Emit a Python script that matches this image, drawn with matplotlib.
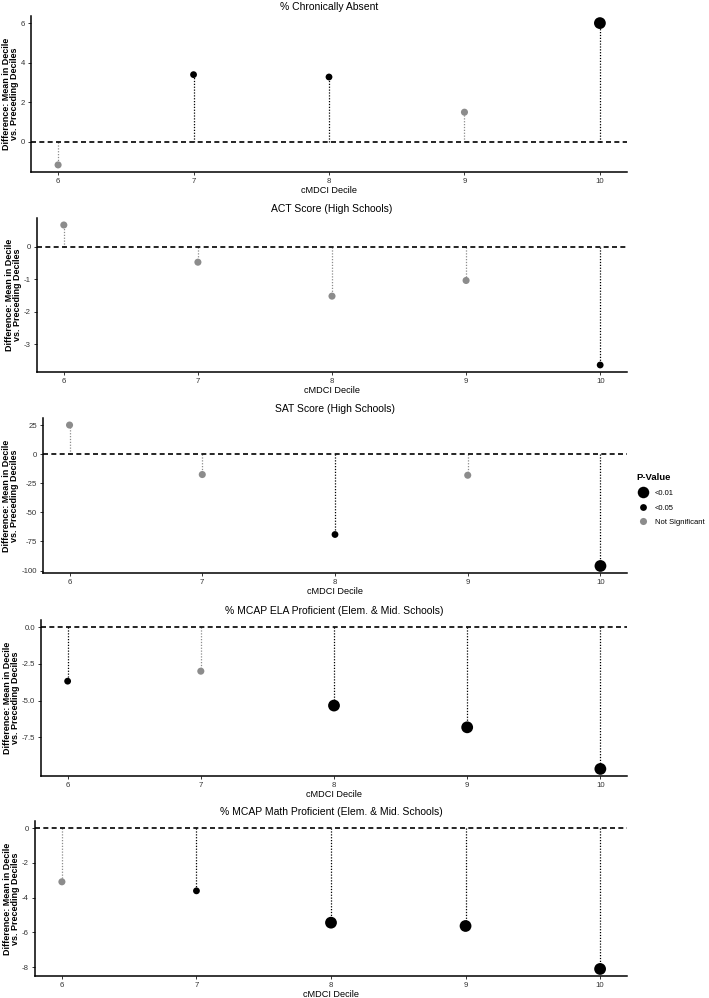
import matplotlib
matplotlib.use("Agg")
import matplotlib.pyplot as plt
from matplotlib.lines import Line2D
from matplotlib.ticker import FixedLocator, FixedFormatter

plt.rcParams['font.family'] = ['Liberation Sans', 'DejaVu Sans']
plt.rcParams['axes.unicode_minus'] = False

deciles = [6, 7, 8, 9, 10]

titles = [
    "% Chronically Absent",
    "ACT Score (High Schools)",
    "SAT Score (High Schools)",
    "% MCAP ELA Proficient (Elem. & Mid. Schools)",
    "% MCAP Math Proficient (Elem. & Mid. Schools)",
]

chronic_vals = [-1.19, 3.40, 3.28, 1.49, 6.02]
chronic_sig = ["ns", "<0.05", "<0.05", "ns", "<0.01"]

act_vals = [0.66, -0.48, -1.52, -1.04, -3.63]
act_sig = ["ns", "ns", "ns", "ns", "<0.05"]

sat_vals = [25.0, -17.5, -69.0, -18.1, -96.0]
sat_sig = ["ns", "ns", "<0.05", "ns", "<0.01"]

ela_vals = [-3.68, -3.00, -5.34, -6.82, -9.65]
ela_sig = ["<0.05", "ns", "<0.01", "<0.01", "<0.01"]

math_vals = [-3.09, -3.61, -5.44, -5.63, -8.10]
math_sig = ["ns", "<0.05", "<0.01", "<0.01", "<0.01"]

chronic_ticks = [0, 2, 4, 6]
chronic_ticklabels = ["0", "2", "4", "6"]
act_ticks = [-3, -2, -1, 0]
act_ticklabels = ["-3", "-2", "-1", "0"]
sat_ticks = [-100, -75, -50, -25, 0, 25]
sat_ticklabels = ["-100", "-75", "-50", "-25", "0", "25"]
ela_ticks = [-7.5, -5.0, -2.5, 0.0]
ela_ticklabels = ["-7.5", "-5.0", "-2.5", "0.0"]
math_ticks = [-8, -6, -4, -2, 0]
math_ticklabels = ["-8", "-6", "-4", "-2", "0"]

legend_levels = ["<0.01", "<0.05", "Not Significant"]

panels = [
    (chronic_vals, chronic_sig, chronic_ticks, chronic_ticklabels),
    (act_vals, act_sig, act_ticks, act_ticklabels),
    (sat_vals, sat_sig, sat_ticks, sat_ticklabels),
    (ela_vals, ela_sig, ela_ticks, ela_ticklabels),
    (math_vals, math_sig, math_ticks, math_ticklabels),
]

GREY = "#8c8c8c"
style = {
    "<0.01": dict(color="black", s=72),
    "<0.05": dict(color="black", s=24),
    "ns": dict(color=GREY, s=26),
}

W, H = 709, 998
fig = plt.figure(figsize=(W / 100, H / 100), dpi=100)

# axes boxes in pixel coords (left, top, bottom); right edge shared
boxes = [
    (31, 16, 172),
    (37, 218, 372),
    (43, 418, 573),
    (41, 620, 776),
    (35, 821, 976),
]
RIGHT = 627

for (vals, sigs, ticks, ticklabels), title, (l, t, b) in zip(panels, titles, boxes):
    ax = fig.add_axes([l / W, 1 - b / H, (RIGHT - l) / W, (b - t) / H])
    for x, v, sg in zip(deciles, vals, sigs):
        st = style[sg]
        ax.vlines(x, 0, v, colors=st["color"], linestyles=(0, (1, 1.3)),
                  linewidth=0.9, zorder=2)
        ax.scatter([x], [v], s=st["s"], color=st["color"], edgecolors="none",
                   zorder=3)
    ax.axhline(0, color="black", linestyle=(0, (3, 2)), linewidth=1.2, zorder=2)
    ax.margins(x=0.05, y=0.05)
    ax.set_xticks(deciles)
    ax.set_xticklabels([str(d) for d in deciles])
    ax.yaxis.set_major_locator(FixedLocator(ticks))
    ax.yaxis.set_major_formatter(FixedFormatter(ticklabels))
    for side in ("top", "right"):
        ax.spines[side].set_visible(False)
    for side in ("left", "bottom"):
        ax.spines[side].set_linewidth(1.1)
    ax.tick_params(axis="both", labelsize=5.6, length=2.5, width=0.7,
                   colors="#333333", pad=1.8)
    ax.set_title(title, fontsize=7.5, pad=4)
    ax.set_xlabel("cMDCI Decile", fontsize=6.6, labelpad=0.5)
    ax.set_ylabel("Difference: Mean in Decile\nvs. Preceding Deciles",
                  fontsize=6.5, fontweight="bold", labelpad=1.5, linespacing=0.85)

handles = [
    Line2D([], [], marker="o", linestyle="none", color="black",
           markersize=8.3, markeredgewidth=0),
    Line2D([], [], marker="o", linestyle="none", color="black",
           markersize=4.9, markeredgewidth=0),
    Line2D([], [], marker="o", linestyle="none", color=GREY,
           markersize=5.1, markeredgewidth=0),
]
leg = fig.legend(handles, legend_levels, title="P-Value", frameon=False,
                 loc="upper left", bbox_to_anchor=(631 / W, 1 - 468 / H),
                 fontsize=5.5, title_fontsize=6.8, handletextpad=0.6,
                 labelspacing=0.95, handlelength=1.8, borderpad=0.2)
leg.get_title().set_fontweight("bold")
leg._legend_box.align = "left"

fig.savefig("out.png", dpi=100)
